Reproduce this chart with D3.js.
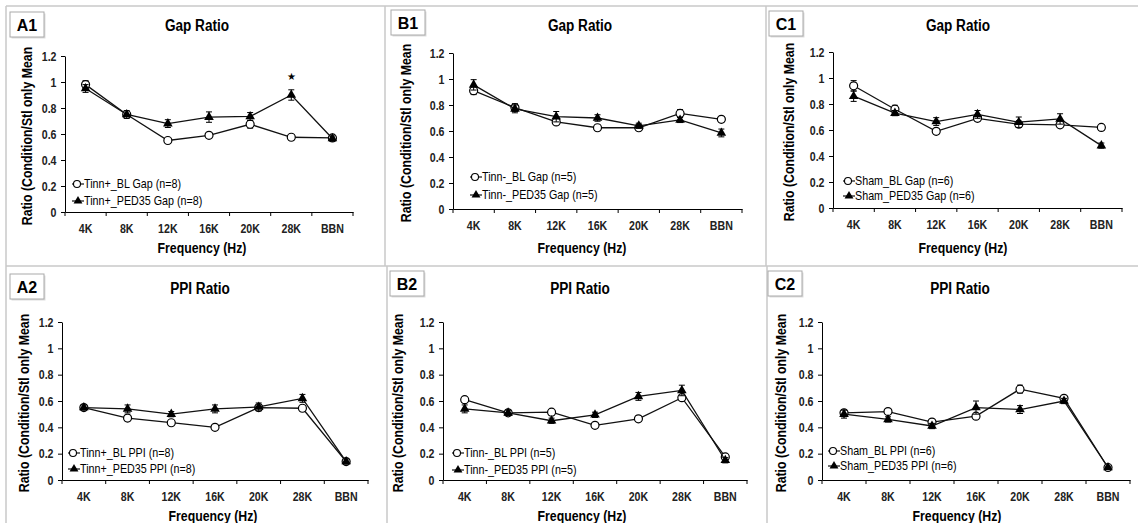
<!DOCTYPE html>
<html>
<head>
<meta charset="utf-8">
<script src="https://cdn.jsdelivr.net/npm/d3@7"></script>
<style>
  body { margin: 0; background: #fff; }
  svg { display: block; font-family: "Liberation Sans", Arial, sans-serif; }
  .tick text { font-weight: bold; font-size: 12.5px; fill: #222; }
</style>
</head>
<body>
<div id="chart"></div>
<script>
// categories
const freqs = ["4K", "8K", "12K", "16K", "20K", "28K", "BBN"];
const yTicks = [0, 0.2, 0.4, 0.6, 0.8, 1, 1.2];

// A1 gap ratio, Tinn+
const a1Bl = [0.98, 0.75, 0.55, 0.59, 0.675, 0.575, 0.57];
const a1BlErr = [0.03, 0.02, 0.015, 0.015, 0.03, 0.02, 0.015];
const a1Ped = [0.95, 0.75, 0.68, 0.73, 0.735, 0.90, 0.565];
const a1PedErr = [0.03, 0.03, 0.03, 0.04, 0.03, 0.04, 0.02];
// B1 gap ratio, Tinn-
const b1Bl = [0.91, 0.78, 0.67, 0.625, 0.625, 0.735, 0.69];
const b1BlErr = [0.03, 0.03, 0.02, 0.02, 0.02, 0.03, 0.02];
const b1Ped = [0.955, 0.77, 0.71, 0.70, 0.64, 0.685, 0.585];
const b1PedErr = [0.04, 0.03, 0.04, 0.025, 0.02, 0.02, 0.03];
// C1 gap ratio, Sham
const c1Bl = [0.94, 0.76, 0.59, 0.69, 0.645, 0.64, 0.62];
const c1BlErr = [0.04, 0.03, 0.02, 0.02, 0.02, 0.02, 0.02];
const c1Ped = [0.86, 0.73, 0.665, 0.72, 0.66, 0.685, 0.48];
const c1PedErr = [0.04, 0.02, 0.03, 0.03, 0.04, 0.04, 0.02];
// A2 PPI ratio, Tinn+
const a2Bl = [0.55, 0.47, 0.435, 0.40, 0.55, 0.545, 0.14];
const a2BlErr = [0.02, 0.02, 0.01, 0.01, 0.02, 0.02, 0.01];
const a2Ped = [0.55, 0.54, 0.50, 0.54, 0.555, 0.62, 0.14];
const a2PedErr = [0.02, 0.03, 0.02, 0.03, 0.03, 0.03, 0.02];
// B2 PPI ratio, Tinn-
const b2Bl = [0.61, 0.51, 0.515, 0.415, 0.465, 0.625, 0.175];
const b2BlErr = [0.02, 0.02, 0.02, 0.01, 0.02, 0.02, 0.02];
const b2Ped = [0.54, 0.51, 0.45, 0.495, 0.635, 0.68, 0.15];
const b2PedErr = [0.03, 0.02, 0.02, 0.02, 0.03, 0.04, 0.02];
// C2 PPI ratio, Sham
const c2Bl = [0.51, 0.52, 0.44, 0.485, 0.69, 0.62, 0.095];
const c2BlErr = [0.02, 0.02, 0.02, 0.02, 0.03, 0.02, 0.01];
const c2Ped = [0.50, 0.46, 0.41, 0.55, 0.535, 0.60, 0.095];
const c2PedErr = [0.03, 0.02, 0.02, 0.05, 0.03, 0.02, 0.01];

const yLabel = "Ratio (Condition/Stl only Mean";
const xLabel = "Frequency (Hz)";

const svg = d3.select("#chart").append("svg")
    .attr("width", 1138)
    .attr("height", 523);

// panel frame lines
const frame = svg.append("g").attr("stroke", "#c8c8c8").attr("stroke-width", 1.5);
frame.append("line").attr("x1", 6).attr("y1", 6).attr("x2", 1138).attr("y2", 6);
frame.append("line").attr("x1", 6).attr("y1", 6).attr("x2", 6).attr("y2", 523);
frame.append("line").attr("x1", 6).attr("y1", 266).attr("x2", 1138).attr("y2", 266);
frame.append("line").attr("x1", 385).attr("y1", 6).attr("x2", 385).attr("y2", 266);
frame.append("line").attr("x1", 766).attr("y1", 6).attr("x2", 766).attr("y2", 266);
frame.append("line").attr("x1", 387).attr("y1", 266).attr("x2", 387).attr("y2", 523);
frame.append("line").attr("x1", 767).attr("y1", 266).attr("x2", 767).attr("y2", 523);

const panels = [
  { id: "A1", title: "Gap Ratio", bl: a1Bl, blErr: a1BlErr, ped: a1Ped, pedErr: a1PedErr,
    legend: ["Tinn+_BL Gap (n=8)", "Tinn+_PED35 Gap (n=8)"], star: 5,
    left: 65, right: 353, top: 56, bottom: 212, titleX: 197, titleY: 31,
    box: [10, 12], yLabX: 32, xLabX: 202, xLabY: 253, legX: 72, legY: [184, 201] },
  { id: "B1", title: "Gap Ratio", bl: b1Bl, blErr: b1BlErr, ped: b1Ped, pedErr: b1PedErr,
    legend: ["Tinn-_BL Gap (n=5)", "Tinn-_PED35 Gap (n=5)"],
    left: 453, right: 742, top: 53, bottom: 209, titleX: 580, titleY: 31,
    box: [391, 10], yLabX: 411, xLabX: 582, xLabY: 253, legX: 470, legY: [177, 195] },
  { id: "C1", title: "Gap Ratio", bl: c1Bl, blErr: c1BlErr, ped: c1Ped, pedErr: c1PedErr,
    legend: ["Sham_BL Gap (n=6)", "Sham_PED35 Gap (n=6)"],
    left: 833, right: 1122, top: 52, bottom: 208, titleX: 958, titleY: 31,
    box: [769, 11], yLabX: 794, xLabX: 963, xLabY: 253, legX: 843, legY: [181, 196] },
  { id: "A2", title: "PPI Ratio", bl: a2Bl, blErr: a2BlErr, ped: a2Ped, pedErr: a2PedErr,
    legend: ["Tinn+_BL PPI (n=8)", "Tinn+_PED35 PPI (n=8)"],
    left: 62, right: 368, top: 322, bottom: 480, titleX: 200, titleY: 294,
    box: [10, 274], yLabX: 29, xLabX: 213, xLabY: 521, legX: 68, legY: [453, 469] },
  { id: "B2", title: "PPI Ratio", bl: b2Bl, blErr: b2BlErr, ped: b2Ped, pedErr: b2PedErr,
    legend: ["Tinn-_BL PPI (n=5)", "Tinn-_PED35 PPI (n=5)"],
    left: 443, right: 747, top: 322, bottom: 480, titleX: 580, titleY: 294,
    box: [390, 271], yLabX: 403, xLabX: 582, xLabY: 521, legX: 452, legY: [453, 470] },
  { id: "C2", title: "PPI Ratio", bl: c2Bl, blErr: c2BlErr, ped: c2Ped, pedErr: c2PedErr,
    legend: ["Sham_BL PPI (n=6)", "Sham_PED35 PPI (n=6)"],
    left: 822, right: 1130, top: 322, bottom: 480, titleX: 960, titleY: 294,
    box: [768, 271], yLabX: 786, xLabX: 957, xLabY: 521, legX: 828, legY: [451, 466] }
];

const tri = d3.symbol().type(d3.symbolTriangle).size(40);

// narrow text: condense horizontally around its anchor
function narrowText(g, x, y, txt, size, sx, weight, anchor) {
    return g.append("text")
        .attr("transform", `translate(${x},${y}) scale(${sx},1)`)
        .attr("text-anchor", anchor || "middle")
        .style("font-size", size + "px")
        .style("font-weight", weight || "normal")
        .text(txt);
}

function drawPanel(p) {
    const g = svg.append("g");
    const x = d3.scaleBand().domain(freqs).range([p.left, p.right]);
    const y = d3.scaleLinear().domain([0, 1.2]).range([p.bottom, p.top]);
    const cx = d => x(d) + x.bandwidth() / 2;

    // label box
    g.append("rect")
        .attr("x", p.box[0] + 1.5).attr("y", p.box[1] + 1.5)
        .attr("width", 34).attr("height", 25)
        .attr("fill", "#ddd");
    g.append("rect")
        .attr("x", p.box[0]).attr("y", p.box[1])
        .attr("width", 34).attr("height", 25)
        .attr("fill", "#fff").attr("stroke", "#aaa").attr("stroke-width", 1);
    g.append("text")
        .attr("x", p.box[0] + 17).attr("y", p.box[1] + 18.5)
        .attr("text-anchor", "middle")
        .style("font-weight", "bold").style("font-size", "16px")
        .text(p.id);

    // title
    narrowText(g, p.titleX, p.titleY, p.title, 17, 0.8, "bold");

    // y axis
    const ya = g.append("g")
        .attr("transform", `translate(${p.left},0)`)
        .call(d3.axisLeft(y).tickValues(yTicks).tickSize(4).tickSizeOuter(0).tickPadding(6)
            .tickFormat(d => String(+d.toFixed(1))));
    ya.select(".domain").attr("stroke", "#000");
    ya.selectAll(".tick text").attr("transform", "scale(0.85,1)");

    // x axis: labels at centres, ticks at category edges like Excel
    const xa = g.append("g")
        .attr("transform", `translate(0,${p.bottom})`)
        .call(d3.axisBottom(x).tickSize(0).tickPadding(12).tickSizeOuter(0));
    xa.select(".domain").attr("stroke", "#000");
    xa.selectAll(".tick text").attr("transform", "scale(0.85,1)");
    const edges = freqs.map(d => x(d)).concat([p.right]);
    g.append("g").selectAll("line").data(edges).join("line")
        .attr("x1", d => d).attr("x2", d => d)
        .attr("y1", p.bottom).attr("y2", p.bottom + 4)
        .attr("stroke", "#000");

    // axis titles
    g.append("text")
        .attr("transform", `translate(${p.yLabX},${(p.top + p.bottom) / 2 + 2}) rotate(-90) scale(0.88,1)`)
        .attr("text-anchor", "middle")
        .style("font-weight", "bold").style("font-size", "14px")
        .text(yLabel);
    narrowText(g, p.xLabX, p.xLabY, xLabel, 14, 0.88, "bold");

    const line = d3.line().x((d, i) => cx(freqs[i])).y(d => y(d));
    const series = [
        { vals: p.bl, err: p.blErr, kind: "circle" },
        { vals: p.ped, err: p.pedErr, kind: "tri" }
    ];

    series.forEach(s => {
        const sg = g.append("g");
        // error bars
        sg.selectAll(".eb").data(s.vals).join("path")
            .attr("d", (v, i) => {
                const xx = cx(freqs[i]);
                const y1 = y(v + s.err[i]), y0 = y(v - s.err[i]);
                return `M${xx},${y0}V${y1}M${xx - 3},${y1}H${xx + 3}M${xx - 3},${y0}H${xx + 3}`;
            })
            .attr("stroke", "#000").attr("stroke-width", 1).attr("fill", "none");
        sg.append("path").datum(s.vals)
            .attr("d", line)
            .attr("fill", "none").attr("stroke", "#111").attr("stroke-width", 1.3);
        if (s.kind === "circle") {
            sg.selectAll("circle").data(s.vals).join("circle")
                .attr("cx", (v, i) => cx(freqs[i])).attr("cy", v => y(v))
                .attr("r", 4)
                .attr("fill", "#fff").attr("stroke", "#000").attr("stroke-width", 1.2);
        } else {
            sg.selectAll(".tri").data(s.vals).join("path")
                .attr("transform", (v, i) => `translate(${cx(freqs[i])},${y(v)})`)
                .attr("d", tri)
                .attr("fill", "#000");
        }
    });

    if (p.star !== undefined) {
        g.append("text")
            .attr("x", cx(freqs[p.star])).attr("y", y(1.05) + 4)
            .attr("text-anchor", "middle")
            .style("font-size", "10px")
            .text("\u2605");
    }

    // legend
    p.legend.forEach((lab, i) => {
        const ly = p.legY[i];
        const lg = g.append("g");
        lg.append("line")
            .attr("x1", p.legX).attr("x2", p.legX + 12)
            .attr("y1", ly).attr("y2", ly)
            .attr("stroke", "#111").attr("stroke-width", 1.2);
        if (i === 0) {
            lg.append("circle").attr("cx", p.legX + 5).attr("cy", ly).attr("r", 3.5)
                .attr("fill", "#fff").attr("stroke", "#000").attr("stroke-width", 1.1);
        } else {
            lg.append("path").attr("transform", `translate(${p.legX + 6},${ly})`)
                .attr("d", d3.symbol().type(d3.symbolTriangle).size(34)).attr("fill", "#000");
        }
        narrowText(lg, p.legX + 12, ly + 4, lab, 12.5, 0.86, "normal", "start");
    });
}

panels.forEach(drawPanel);
</script>
</body>
</html>
